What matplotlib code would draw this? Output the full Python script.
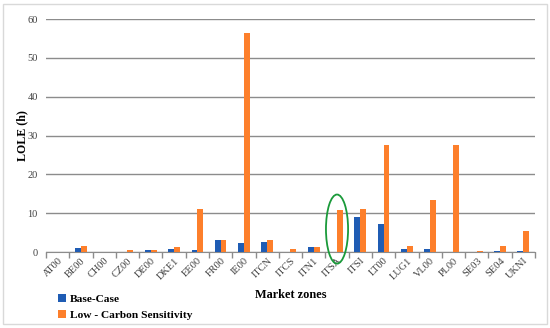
import numpy as np
import matplotlib
matplotlib.use("Agg")
import matplotlib.pyplot as plt
from matplotlib.patches import Ellipse, Rectangle

plt.rcParams["font.family"] = ["Liberation Serif", "DejaVu Serif"]

zones = ["AT00", "BE00", "CH00", "CZ00", "DE00", "DKE1", "EE00", "FR00", "IE00",
         "ITCN", "ITCS", "ITN1", "ITSA", "ITSI", "LT00", "LUG1", "VL00", "PL00",
         "SE03", "SE04", "UKNI"]
base_case = [0.0, 1.0, 0.1, 0.0, 0.4, 0.9, 0.4, 3.0, 2.4, 2.7, 0.0, 1.3, 0.1,
             8.9, 7.3, 0.7, 0.7, 0.0, 0.0, 0.3, 0.3]
low_carbon = [0.1, 1.5, 0.1, 0.4, 0.6, 1.3, 11.2, 3.1, 56.5, 3.1, 0.9, 1.4, 10.9,
              11.1, 27.5, 1.5, 13.4, 27.5, 0.2, 1.6, 5.4]
highlight = "ITSA"

BLUE = "#1f5cb4"
ORANGE = "#fd7f2b"

fig = plt.figure(figsize=(5.5, 3.28), dpi=100)
fig.patches.append(Rectangle((0.006, 0.012), 0.988, 0.976, transform=fig.transFigure,
                             fill=False, edgecolor="#d9d9d9", linewidth=1.0))
ax = fig.add_axes([0.0836, 0.2317, 0.889, 0.7103])

x = np.arange(len(zones))
w = 0.25
ax.bar(x - w / 2, base_case, w, color=BLUE, label="Base-Case", zorder=3)
ax.bar(x + w / 2, low_carbon, w, color=ORANGE, label="Low - Carbon Sensitivity", zorder=3)

ax.set_xlim(-0.5, len(zones) - 0.5)
ax.set_ylim(0, 60)
ax.set_yticks(np.arange(0, 61, 10))
ax.yaxis.grid(True, color="#8c8c8c", linewidth=1.0)
ax.set_axisbelow(True)
for s in ["top", "right", "left"]:
    ax.spines[s].set_visible(False)
ax.spines["bottom"].set_color("#8c8c8c")
ax.tick_params(axis="y", length=0, labelsize=7.5, pad=6, colors="#404040")
ax.set_xticks(x)
ax.set_xticklabels(zones, rotation=45, ha="right", rotation_mode="anchor",
                   fontsize=7.5, color="#404040")
ax.tick_params(axis="x", which="major", length=0, pad=3)
ax.set_xticks(np.arange(-0.5, len(zones), 1), minor=True)
ax.tick_params(axis="x", which="minor", length=4, color="#8c8c8c", width=1)

ax.set_ylabel("LOLE (h)", fontsize=8.6, fontweight="bold")
ax.yaxis.set_label_coords(-0.037, 0.5)

i = zones.index(highlight)
ax.add_patch(Ellipse((i, 5.9), 0.95, 17.8, fill=False, edgecolor="#1a9a3a",
                     linewidth=1.3, clip_on=False, zorder=4))

fig.text(0.529, 0.1, "Market zones", ha="center", va="center", fontsize=8.8,
         fontweight="bold")
fig.legend(loc="lower left", bbox_to_anchor=(0.105, 0.025), frameon=False,
           prop={"size": 8.2, "weight": "bold"}, handlelength=0.7, handleheight=0.7,
           handletextpad=0.4, labelspacing=0.55, borderpad=0, borderaxespad=0)

fig.savefig("out.png", dpi=100)
